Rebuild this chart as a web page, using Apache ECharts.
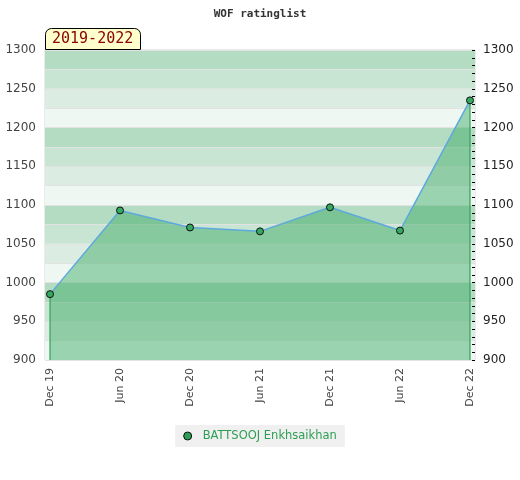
<!DOCTYPE html>
<html>
<head>
<meta charset="utf-8">
<script src="https://cdn.jsdelivr.net/npm/echarts@6/dist/echarts.min.js"></script>
<style>html,body{margin:0;padding:0;background:#fff}#c{width:520px;height:480px}</style>
</head>
<body>
<div id="c"></div>
<script>
var categories = ['Dec 19', 'Jun 20', 'Dec 20', 'Jun 21', 'Dec 21', 'Jun 22', 'Dec 22'];
var ratings = [985, 1093, 1071, 1066, 1097, 1067, 1235];
var seriesName = 'BATTSOOJ Enkhsaikhan';
var periodLabel = '2019-2022';
var chartTitle = 'WOF ratinglist';
var yMin = 900, yMax = 1300;

var pts = ratings.map(function (v, i) { return [i, v]; });
var last = ratings.length - 1;
var pad = 0.0716;
var plain = function (v) { return String(v); };

var chart = echarts.init(document.getElementById('c'), null, { renderer: 'canvas' });
chart.setOption({
  animation: false,
  title: [{
    text: chartTitle, left: 'center', top: 4,
    textStyle: { fontFamily: 'DejaVu Sans Mono', fontWeight: 'bold', fontSize: 11, color: '#333' }
  }, {
    text: periodLabel, left: 45, top: 28,
    backgroundColor: '#ffffcc', borderColor: '#000', borderWidth: 1,
    borderRadius: [6, 6, 0, 0], padding: [3, 7, 3, 7],
    textStyle: { fontFamily: 'DejaVu Sans Mono', fontWeight: 'normal', fontSize: 15, color: '#8b0000', lineHeight: 16 }
  }],
  legend: {
    bottom: 33, left: 'center',
    backgroundColor: '#f0f0f0', padding: [5, 8, 5, 8],
    itemWidth: 8, itemHeight: 8, icon: 'circle',
    textStyle: { color: '#2e9e55', fontFamily: 'DejaVu Sans', fontSize: 11.5, padding: [0, 0, 0, 6] },
    data: [{ name: seriesName, itemStyle: { color: '#2e9e55', borderColor: '#111', borderWidth: 1 } }]
  },
  grid: { left: 45, right: 45, top: 50, bottom: 120, show: true, borderColor: '#d6d6d6', borderWidth: 1, backgroundColor: 'transparent' },
  xAxis: {
    type: 'value', min: -pad, max: last + pad,
    axisLine: { show: false }, axisTick: { show: false }, splitLine: { show: false },
    axisLabel: {
      customValues: categories.map(function (c, i) { return i; }),
      rotate: 90, margin: 8, color: '#444', fontFamily: 'DejaVu Sans', fontSize: 11,
      formatter: function (v) { return categories[Math.round(v)] || ''; }
    }
  },
  yAxis: [{
    type: 'value', min: yMin, max: yMax, interval: 50, position: 'left',
    axisLine: { show: false }, axisTick: { show: false }, splitLine: { show: false },
    axisLabel: { color: '#444', fontFamily: 'DejaVu Sans', fontSize: 12, margin: 9, formatter: plain }
  }, {
    type: 'value', min: yMin, max: yMax, interval: 50, position: 'right',
    axisLine: { show: false },
    axisTick: { show: true, inside: true, length: 3, lineStyle: { color: '#000' } },
    minorTick: { show: true, splitNumber: 5, length: 3, lineStyle: { color: '#000' } },
    splitLine: { show: false },
    axisLabel: { color: '#222', fontFamily: 'DejaVu Sans', fontSize: 12, margin: 8, formatter: plain }
  }, {
    type: 'value', min: yMin, max: yMax, interval: 25, position: 'left', show: true,
    axisLine: { show: false }, axisTick: { show: false }, axisLabel: { show: false },
    splitLine: { show: true, lineStyle: { color: '#e2e2e2', width: 1 } },
    splitArea: { show: true, areaStyle: { color: ['#eff7f2', '#dbede2', '#c8e5d4', '#b3dcc3'] } }
  }],
  series: [{
    name: seriesName, type: 'line', data: pts, z: 3,
    symbol: 'circle', symbolSize: 7,
    itemStyle: { color: '#35a862', borderColor: '#111', borderWidth: 1 },
    lineStyle: { color: '#5ea8dc', width: 1.5 },
    areaStyle: { color: 'rgb(59,169,100)', opacity: 0.47, origin: 'start' }
  }, {
    name: 'edgeL', type: 'line', data: [[0, yMin], [0, ratings[0]]], symbol: 'none', silent: true, z: 2,
    lineStyle: { color: '#2e9e55', width: 1.2 }
  }, {
    name: 'edgeR', type: 'line', data: [[last, yMin], [last, ratings[last]]], symbol: 'none', silent: true, z: 2,
    lineStyle: { color: '#2e9e55', width: 1.2 }
  }]
});
</script>
</body>
</html>
